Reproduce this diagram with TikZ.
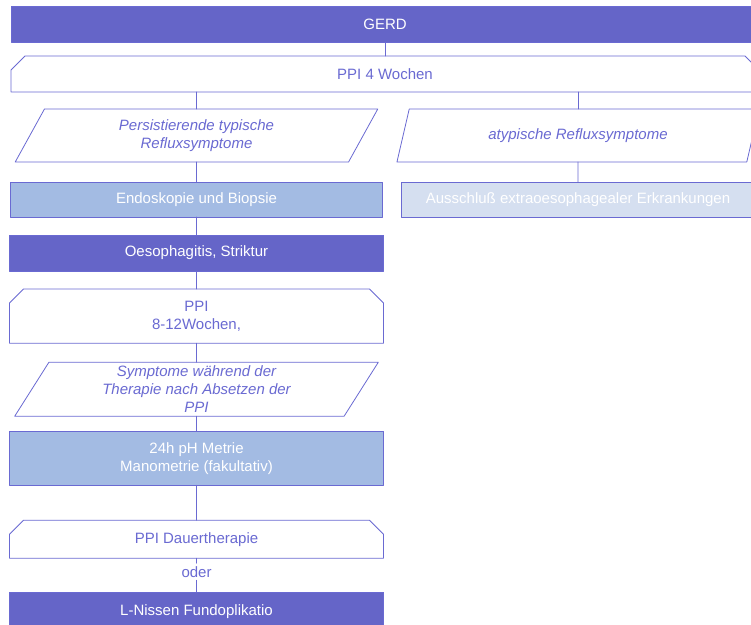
\documentclass[tikz,border=0pt]{standalone}
\usepackage{fontspec}
\setmainfont{Liberation Sans}
\usetikzlibrary{positioning,shapes.geometric,shapes.misc}
\definecolor{deepviolet}{HTML}{6565C8}
\definecolor{lineviolet}{HTML}{6A6AD2}
\definecolor{softblue}{HTML}{A3BBE3}
\definecolor{paleblue}{HTML}{D5DFF0}
\newcommand{\chartfont}{\fontsize{15}{18}\selectfont}
\tikzset{
    every picture/.style={line cap=round,line join=round},
    headbox/.style={draw=lineviolet,fill=deepviolet,text=white,line width=0.8pt,
      minimum width=374pt,minimum height=36pt,inner sep=2pt,outer sep=0pt,align=center},
    therapybox/.style={chamfered rectangle,chamfered rectangle corners={north west,north east},
      chamfered rectangle xsep=4pt,chamfered rectangle ysep=10pt,
      draw=lineviolet,fill=white,text=lineviolet,line width=0.8pt,
      minimum width=374pt,minimum height=36pt,inner sep=2pt,outer sep=0pt,align=center},
    symptombox/.style={trapezium,trapezium left angle=65,trapezium right angle=115,
      trapezium stretches=true,draw=lineviolet,fill=white,text=lineviolet,line width=0.8pt,
      minimum width=363pt,minimum height=53pt,inner sep=0pt,outer sep=0pt,
      font=\chartfont\itshape,align=center},
    exambox/.style={draw=lineviolet,fill=softblue,text=white,line width=0.8pt,
      minimum width=372pt,minimum height=35pt,inner sep=2pt,outer sep=0pt,align=center},
    oderlabel/.style={text=lineviolet,inner sep=3pt,outer sep=0pt},
    link/.style={draw=lineviolet,line width=0.8pt}
}
\begin{document}
\begin{tikzpicture}[font=\chartfont]
  \useasboundingbox (0pt,0pt) rectangle (751pt,-624pt);
  % top of the chart
  \node[headbox,minimum width=748pt] (gerd) at (385pt,-24pt) {GERD};
  \node[therapybox,minimum width=748pt,below=14pt of gerd] (ppi4) {PPI 4 Wochen};
  \node[symptombox] (typ) at (196.5pt,-135.5pt) {Persistierende typische\\Refluxsymptome};
  \node[symptombox] (atyp) at (578pt,-135.5pt) {atypische Refluxsymptome};
  % right branch
  \node[exambox,fill=paleblue,minimum width=354pt,below=20pt of atyp] (aus)
    {Ausschluß extraoesophagealer Erkrankungen};
  % left branch
  \node[exambox,below=20pt of typ] (endo) {Endoskopie und Biopsie};
  \node[headbox,below=18pt of endo] (oeso) {Oesophagitis, Striktur};
  \node[therapybox,minimum height=52pt,below=18pt of oeso] (ppi812) {PPI\\8-12Wochen,};
  \node[symptombox,minimum width=364pt,minimum height=54pt,below=19pt of ppi812] (sympt)
    {Symptome während der\\Therapie nach Absetzen der\\PPI};
  \node[exambox,minimum width=374pt,minimum height=54pt,below=15pt of sympt] (ph)
    {24h pH Metrie\\Manometrie (fakultativ)};
  \node[therapybox,below=35pt of ph] (dauer) {PPI Dauertherapie};
  \node[oderlabel,below=5pt of dauer] (oder) {oder};
  \node[headbox,minimum height=38pt,below=12pt of oder] (nissen) {L-Nissen Fundoplikatio};
  % connectors
  \draw[link] (gerd) -- (ppi4);
  \draw[link] (ppi4.south -| typ.north) -- (typ.north);
  \draw[link] (ppi4.south -| atyp.north) -- (atyp.north);
  \draw[link] (atyp) -- (aus);
  \draw[link] (typ) -- (endo);
  \draw[link] (endo) -- (oeso);
  \draw[link] (oeso) -- (ppi812);
  \draw[link] (ppi812) -- (sympt);
  \draw[link] (sympt) -- (ph);
  \draw[link] (ph) -- (dauer);
  \draw[link] (dauer) -- (oder);
  \draw[link] (oder) -- (nissen);
\end{tikzpicture}
\end{document}
